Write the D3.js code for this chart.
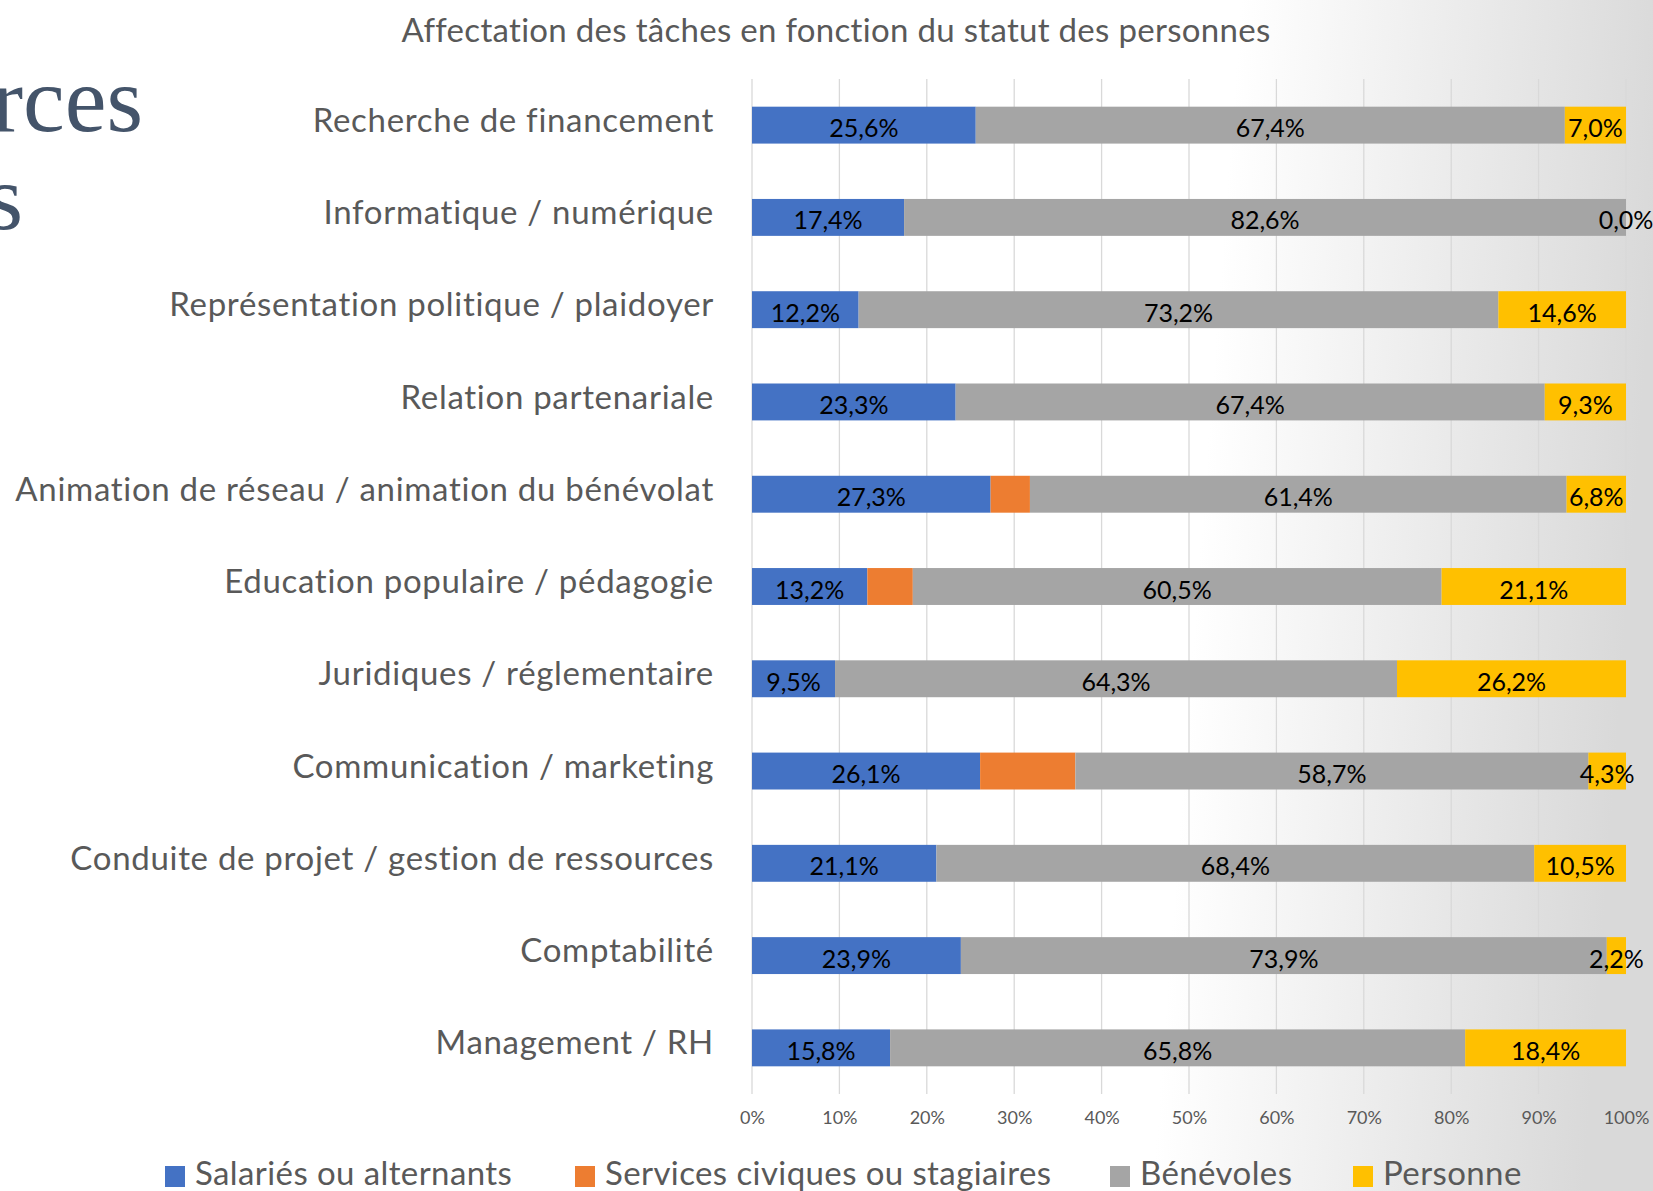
<!DOCTYPE html>
<html>
<head>
<meta charset="utf-8">
<script src="https://cdn.jsdelivr.net/npm/d3@7"></script>
<style>
  html, body { margin: 0; padding: 0; background: #fff; }
  svg { display: block; font-family: Lato, "Open Sans", sans-serif; }
</style>
</head>
<body>
<div id="container"></div>
<script>
// Chart size
const width = 1653;
const height = 1191;

// Data
const categories = [
    "Recherche de financement",
    "Informatique / numérique",
    "Représentation politique / plaidoyer",
    "Relation partenariale",
    "Animation de réseau / animation du bénévolat",
    "Education populaire / pédagogie",
    "Juridiques / réglementaire",
    "Communication / marketing",
    "Conduite de projet / gestion de ressources",
    "Comptabilité",
    "Management / RH"
];
const seriesNames = ["Salariés ou alternants", "Services civiques ou stagiaires", "Bénévoles", "Personne"];
const salaries  = [25.6, 17.4, 12.2, 23.3, 27.3, 13.2, 9.5, 26.1, 21.1, 23.9, 15.8];
const civiques  = [0, 0, 0, 0, 4.5, 5.2, 0, 10.9, 0, 0, 0];
const benevoles = [67.4, 82.6, 73.2, 67.4, 61.4, 60.5, 64.3, 58.7, 68.4, 73.9, 65.8];
const personne  = [7.0, 0.0, 14.6, 9.3, 6.8, 21.1, 26.2, 4.3, 10.5, 2.2, 18.4];
const tickValues = [0, 10, 20, 30, 40, 50, 60, 70, 80, 90, 100];
const colors = ["#4472C4", "#ED7D31", "#A5A5A5", "#FFC000"];
const showLabels = [true, false, true, true];

const seriesValues = [salaries, civiques, benevoles, personne];

// Build rows for stacking
const rows = categories.map((c, i) => {
    const row = { cat: c };
    seriesNames.forEach((s, k) => row[s] = seriesValues[k][i]);
    return row;
});
const stacked = d3.stack().keys(seriesNames)(rows);

const svg = d3.select("#container")
    .append("svg")
    .attr("width", width)
    .attr("height", height);

// Slide background with grey fade on the right
const defs = svg.append("defs");
const grad = defs.append("linearGradient")
    .attr("id", "bg")
    .attr("gradientUnits", "userSpaceOnUse")
    .attr("x1", 1241).attr("y1", 0)
    .attr("x2", 1670).attr("y2", 32);
grad.append("stop").attr("offset", "0").attr("stop-color", "#ffffff");
grad.append("stop").attr("offset", "1").attr("stop-color", "#d9d9d9");
svg.append("rect")
    .attr("width", width).attr("height", height)
    .attr("fill", "url(#bg)");

// Bits of the slide title hidden behind the chart
svg.append("text")
    .attr("x", 143).attr("y", 131)
    .attr("text-anchor", "end")
    .attr("font-family", "'Liberation Serif', serif")
    .attr("font-size", 94)
    .attr("fill", "#44546A")
    .text("rces");
svg.append("text")
    .attr("x", 23).attr("y", 229)
    .attr("text-anchor", "end")
    .attr("font-family", "'Liberation Serif', serif")
    .attr("font-size", 94)
    .attr("fill", "#44546A")
    .text("s");

// Scales
const xScale = d3.scaleLinear().domain([0, 100]).range([752, 1626]);
const yScale = d3.scaleBand()
    .domain(categories)
    .range([79, 1094])
    .paddingInner(0.6)
    .paddingOuter(0.3);

// Gridlines
svg.append("g")
    .selectAll("line")
    .data(tickValues)
    .enter()
    .append("line")
    .attr("x1", d => xScale(d)).attr("x2", d => xScale(d))
    .attr("y1", 79).attr("y2", 1094)
    .attr("stroke", "#d9d9d9")
    .attr("stroke-width", 1.3);

// x axis labels
const xAxis = d3.axisBottom(xScale)
    .tickValues(tickValues)
    .tickSize(0)
    .tickPadding(0)
    .tickFormat(d => d + "%");
const xg = svg.append("g")
    .attr("transform", "translate(0, 1111)")
    .call(xAxis);
xg.select(".domain").remove();
xg.selectAll("text")
    .attr("font-family", "Lato, sans-serif")
    .attr("font-size", 18)
    .attr("fill", "#595959");

// y axis labels
const yAxis = d3.axisLeft(yScale).tickSize(0).tickPadding(0);
const yg = svg.append("g")
    .attr("transform", "translate(714, -4)")
    .call(yAxis);
yg.select(".domain").remove();
yg.selectAll("text")
    .attr("font-family", "Lato, sans-serif")
    .attr("font-size", 33)
    .attr("letter-spacing", "0.7px")
    .attr("fill", "#595959");

// Bars
const layers = svg.append("g")
    .selectAll("g")
    .data(stacked)
    .enter()
    .append("g")
    .attr("fill", (d, i) => colors[i]);

layers.selectAll("rect")
    .data(d => d)
    .enter()
    .append("rect")
    .attr("x", d => xScale(d[0]))
    .attr("y", d => yScale(d.data.cat))
    .attr("width", d => xScale(d[1]) - xScale(d[0]))
    .attr("height", yScale.bandwidth());

// Data labels
const fmt = v => v.toFixed(1).replace(".", ",") + "%";
layers.each(function (layer, k) {
    if (!showLabels[k]) return;
    d3.select(this).selectAll("text")
        .data(layer)
        .enter()
        .append("text")
        .attr("x", d => xScale((d[0] + d[1]) / 2))
        .attr("y", d => yScale(d.data.cat) + yScale.bandwidth() / 2 + 2)
        .attr("text-anchor", "middle")
        .attr("dominant-baseline", "central")
        .attr("font-size", 25)
        .attr("fill", "#000")
        .text(d => fmt(d[1] - d[0]));
});

// Title
svg.append("text")
    .attr("x", 836).attr("y", 29)
    .attr("text-anchor", "middle")
    .attr("dominant-baseline", "central")
    .attr("font-size", 33)
    .attr("letter-spacing", "0.3px")
    .attr("fill", "#595959")
    .text("Affectation des tâches en fonction du statut des personnes");

// Legend
const legendX = [165, 575, 1110, 1353];
const legend = svg.append("g")
    .selectAll("g")
    .data(seriesNames)
    .enter()
    .append("g")
    .attr("transform", (d, i) => `translate(${legendX[i]}, 1174)`);
legend.append("rect")
    .attr("x", 0).attr("y", -8)
    .attr("width", 20).attr("height", 21)
    .attr("fill", (d, i) => colors[i]);
legend.append("text")
    .attr("x", 30).attr("y", -2)
    .attr("dominant-baseline", "central")
    .attr("font-size", 33)
    .attr("letter-spacing", "0.4px")
    .attr("fill", "#595959")
    .text(d => d);
</script>
</body>
</html>
